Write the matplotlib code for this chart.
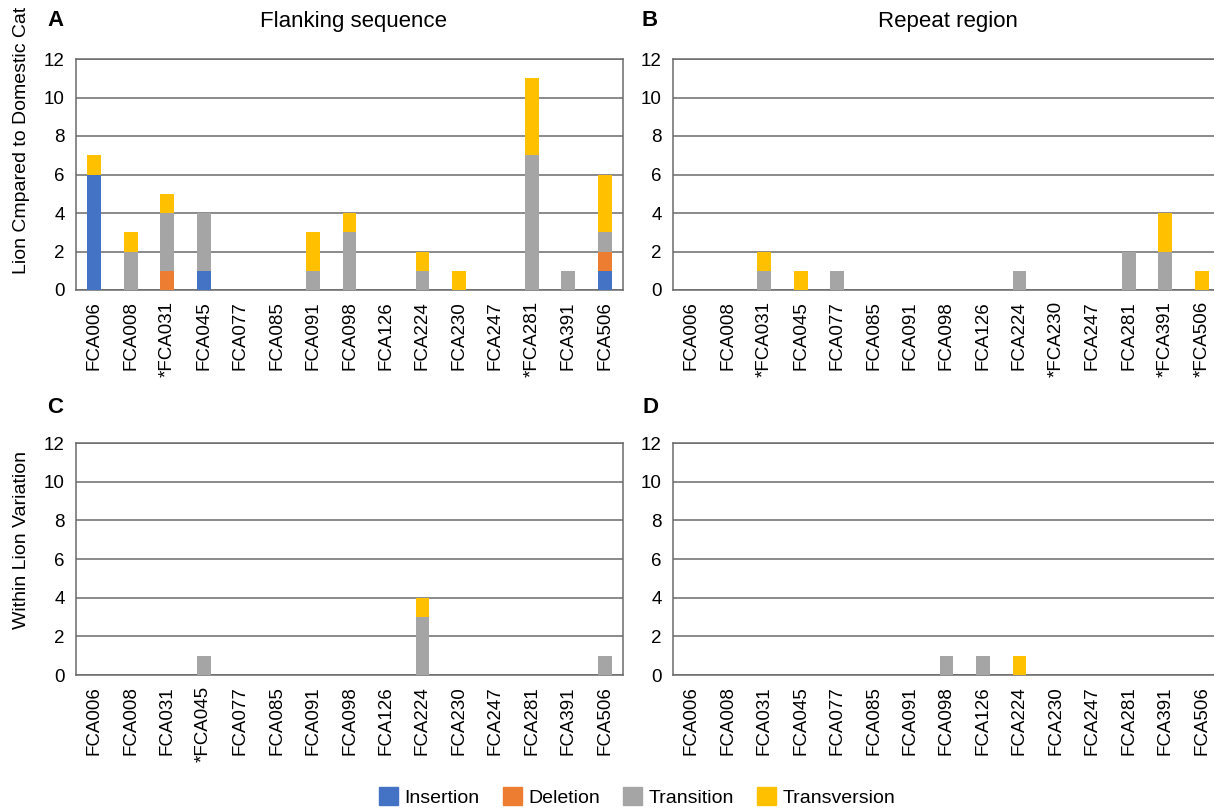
import matplotlib
matplotlib.use("Agg")
import matplotlib.pyplot as plt
from matplotlib.patches import Patch

plt.rcParams["font.family"] = ["Liberation Sans", "DejaVu Sans"]

loci = ["FCA006", "FCA008", "FCA031", "FCA045", "FCA077", "FCA085", "FCA091",
        "FCA098", "FCA126", "FCA224", "FCA230", "FCA247", "FCA281", "FCA391", "FCA506"]
types = ["Insertion", "Deletion", "Transition", "Transversion"]
colors = ["#4472C4", "#ED7D31", "#A5A5A5", "#FFC000"]

# A: flanking sequence, lion vs domestic cat
a_star = ["FCA031", "FCA281"]
a_ins = [6, 0, 0, 1, 0, 0, 0, 0, 0, 0, 0, 0, 0, 0, 1]
a_del = [0, 0, 1, 0, 0, 0, 0, 0, 0, 0, 0, 0, 0, 0, 1]
a_tr = [0, 2, 3, 3, 0, 0, 1, 3, 0, 1, 0, 0, 7, 1, 1]
a_tv = [1, 1, 1, 0, 0, 0, 2, 1, 0, 1, 1, 0, 4, 0, 3]

# B: repeat region, lion vs domestic cat
b_star = ["FCA031", "FCA230", "FCA391", "FCA506"]
b_ins = [0] * 15
b_del = [0] * 15
b_tr = [0, 0, 1, 0, 1, 0, 0, 0, 0, 1, 0, 0, 2, 2, 0]
b_tv = [0, 0, 1, 1, 0, 0, 0, 0, 0, 0, 0, 0, 0, 2, 1]

# C: flanking sequence, within lion
c_star = ["FCA045"]
c_ins = [0] * 15
c_del = [0] * 15
c_tr = [0, 0, 0, 1, 0, 0, 0, 0, 0, 3, 0, 0, 0, 0, 1]
c_tv = [0, 0, 0, 0, 0, 0, 0, 0, 0, 1, 0, 0, 0, 0, 0]

# D: repeat region, within lion
d_star = []
d_ins = [0] * 15
d_del = [0] * 15
d_tr = [0, 0, 0, 0, 0, 0, 0, 1, 1, 0, 0, 0, 0, 0, 0]
d_tv = [0, 0, 0, 0, 0, 0, 0, 0, 0, 1, 0, 0, 0, 0, 0]

W, H = 1214, 809
fig = plt.figure(figsize=(W / 100, H / 100), dpi=100)


def px_axes(left, top, right, bottom):
    return fig.add_axes([left / W, 1 - bottom / H, (right - left) / W, (bottom - top) / H])


def panel(ax, series, stars):
    x = range(len(loci))
    bottom = [0] * len(loci)
    for vals, col in zip(series, colors):
        ax.bar(x, vals, bottom=bottom, width=0.38, color=col, zorder=3)
        bottom = [b + v for b, v in zip(bottom, vals)]
    ax.set_ylim(0, 12)
    ax.set_xlim(-0.5, len(loci) - 0.5)
    ax.set_yticks(range(0, 13, 2))
    ax.set_xticks(list(x))
    ax.set_xticklabels([("*" + l if l in stars else l) for l in loci], rotation=90)
    ax.tick_params(length=0, labelsize=13.5, pad=8)
    ax.grid(axis="y", color="#6b6b6b", lw=1.1, zorder=1)
    for s in ax.spines.values():
        s.set_color("#6b6b6b")
        s.set_linewidth(1.1)


axA = px_axes(76, 59, 623, 290)
axB = px_axes(673, 59, 1220, 290)
axC = px_axes(76, 443, 623, 675)
axD = px_axes(673, 443, 1220, 675)

panel(axA, [a_ins, a_del, a_tr, a_tv], a_star)
panel(axB, [b_ins, b_del, b_tr, b_tv], b_star)
panel(axC, [c_ins, c_del, c_tr, c_tv], c_star)
panel(axD, [d_ins, d_del, d_tr, d_tv], d_star)

fig.text(353 / W, 1 - 22 / H, "Flanking sequence", ha="center", va="center", fontsize=16)
fig.text(948 / W, 1 - 22 / H, "Repeat region", ha="center", va="center", fontsize=16)
for lbl, xx, yy in [("A", 55, 20), ("B", 650, 20), ("C", 55, 408), ("D", 651, 408)]:
    fig.text(xx / W, 1 - yy / H, lbl, ha="center", va="center", fontsize=16, fontweight="bold")

fig.text(22 / W, 1 - 140 / H, "Lion Cmpared to Domestic Cat", rotation=90,
         ha="center", va="center", fontsize=14)
fig.text(22 / W, 1 - 540 / H, "Within Lion Variation", rotation=90,
         ha="center", va="center", fontsize=14)

handles = [Patch(color=c, label=t) for t, c in zip(types, colors)]
fig.legend(handles=handles, loc="center", bbox_to_anchor=(637 / W, 1 - 797 / H), ncol=4,
           frameon=False, fontsize=14, handlelength=1.0, handleheight=1.0,
           handletextpad=0.3, columnspacing=1.2)

fig.savefig("out.png", dpi=100)
